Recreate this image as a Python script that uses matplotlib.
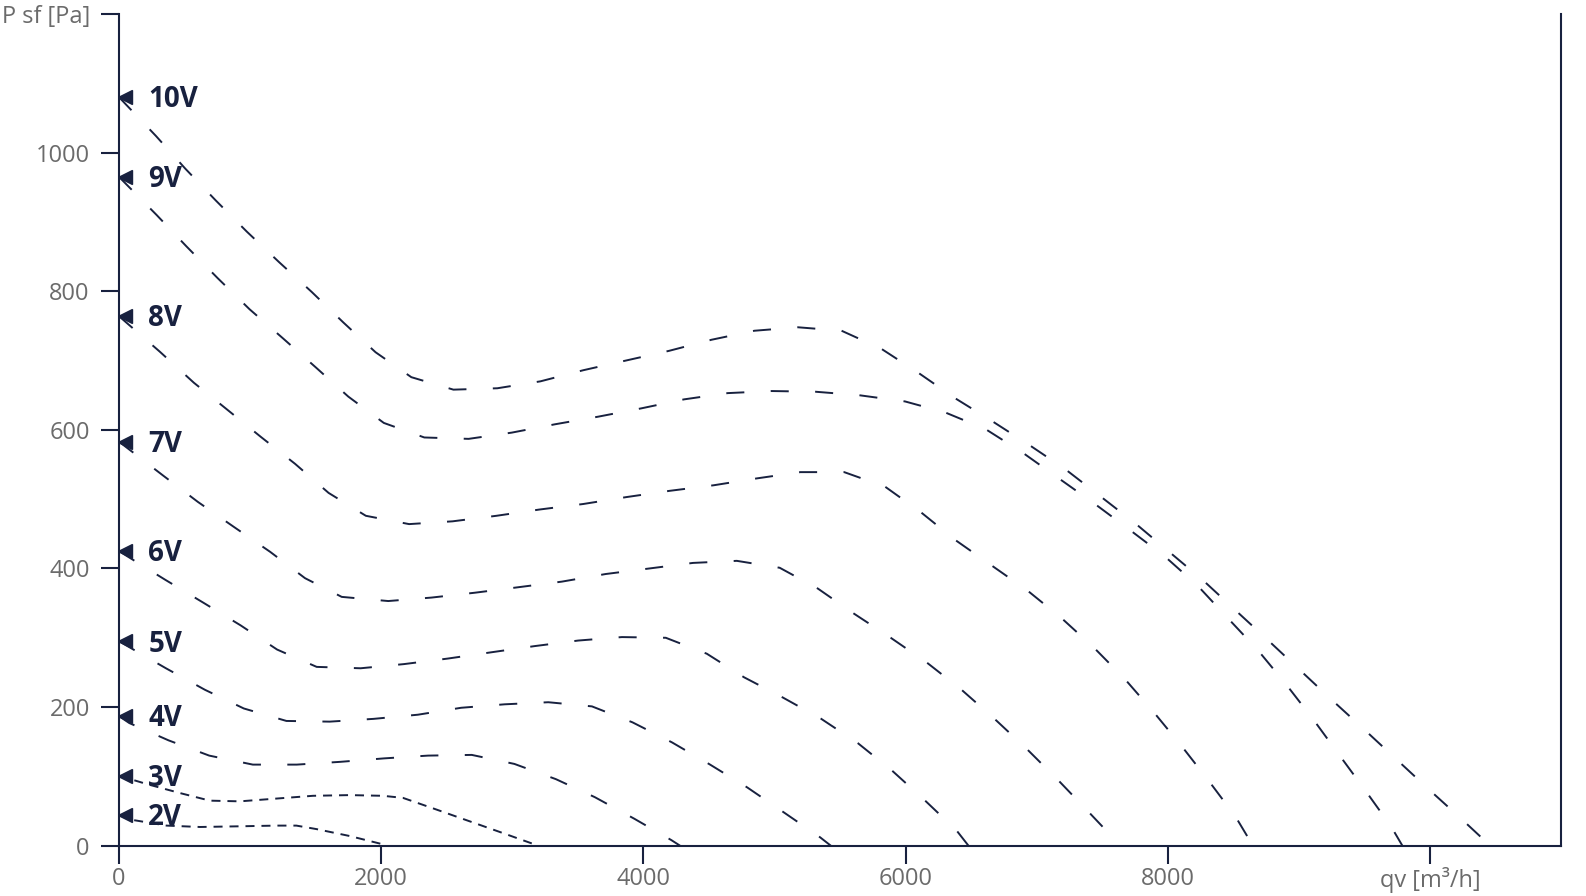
import matplotlib.pyplot as plt
from matplotlib.transforms import ScaledTranslation

plt.rcParams['font.family'] = ['Open Sans', 'DejaVu Sans']
plt.rcParams['lines.scale_dashes'] = False

NAVY = '#18213f'
GREY = '#6b6b6b'

# fan curves, airflow qv [m3/h] vs static pressure [Pa], one pair per control voltage
q_10v = [0, 282, 505, 738, 975, 1221, 1470, 1711, 1957, 2230, 2551, 2886, 3215, 3541, 3867, 4196,
         4520, 4847, 5179, 5512, 5815, 6100, 6375, 6657, 6945, 7220, 7487, 7753, 8011, 8269, 8515,
         8762, 9005, 9248, 9497, 9748, 9993, 10244, 10460]
p_10v = [1080, 1024, 977, 931, 886, 842, 799, 755, 712, 676, 658, 660, 670, 686, 700, 714,
         730, 743, 748, 743, 717, 682, 646, 613, 578, 543, 504, 465, 424, 383, 340,
         297, 254, 211, 168, 124, 81, 38, 0]

q_9v = [0, 287, 513, 752, 996, 1251, 1502, 1749, 2020, 2329, 2667, 2996, 3325, 3655, 3984, 4311,
        4643, 4978, 5313, 5645, 5996, 6304, 6611, 6894, 7169, 7445, 7715, 7980, 8229, 8460, 8688,
        8902, 9111, 9308, 9506, 9703, 9790]
p_9v = [965, 910, 865, 819, 774, 732, 690, 648, 610, 589, 587, 596, 608, 619, 631, 644,
        653, 656, 655, 650, 641, 625, 601, 567, 530, 493, 455, 417, 375, 328, 282,
        233, 182, 131, 80, 28, 0]

q_8v = [0, 310, 571, 820, 1081, 1343, 1599, 1883, 2213, 2544, 2879, 3206, 3541, 3871, 4200, 4535,
        4867, 5197, 5532, 5844, 6118, 6380, 6659, 6931, 7192, 7441, 7675, 7896, 8109, 8315, 8517, 8650]
p_8v = [764, 713, 668, 630, 590, 551, 509, 476, 464, 468, 476, 485, 493, 503, 512, 520,
        530, 539, 539, 518, 481, 441, 404, 368, 328, 285, 240, 192, 143, 93, 42, 0]

q_7v = [0, 330, 602, 876, 1153, 1419, 1699, 2054, 2384, 2714, 3049, 3378, 3713, 4046, 4378, 4713,
        5040, 5331, 5605, 5887, 6164, 6427, 6679, 6928, 7167, 7395, 7640]
p_7v = [583, 535, 496, 460, 424, 386, 359, 353, 358, 365, 373, 381, 392, 400, 408, 411,
        401, 371, 335, 300, 264, 225, 183, 139, 94, 49, 0]

q_6v = [0, 350, 640, 927, 1206, 1508, 1843, 2173, 2508, 2838, 3171, 3503, 3836, 4171, 4484, 4768,
        5062, 5357, 5636, 5899, 6144, 6389, 6480]
p_6v = [425, 384, 351, 318, 283, 258, 256, 262, 270, 279, 288, 296, 301, 300, 277, 243,
        214, 183, 148, 108, 66, 22, 0]

q_5v = [0, 358, 655, 952, 1277, 1607, 1942, 2280, 2610, 2942, 3275, 3608, 3917, 4219, 4509, 4793,
        5072, 5349, 5430]
p_5v = [295, 256, 225, 198, 180, 179, 183, 189, 199, 204, 207, 201, 178, 149, 117, 84,
        48, 12, 0]

q_4v = [0, 78, 378, 688, 1021, 1356, 1688, 2023, 2358, 2691, 3016, 3333, 3630, 3930, 4214, 4280]
p_4v = [187, 177, 152, 130, 117, 117, 121, 126, 130, 131, 118, 96, 70, 39, 8, 0]

q_3v = [0, 211, 464, 693, 922, 1201, 1480, 1759, 2013, 2166, 2394, 2648, 2902, 3168, 3190]
p_3v = [101, 89, 76, 65, 64, 68, 72, 73, 72, 69, 54, 37, 20, 2, 0]

q_2v = [0, 109, 363, 617, 922, 1201, 1353, 1505, 1759, 2013, 2030]
p_2v = [44, 37, 29, 27, 28, 29, 29, 24, 14, 2, 0]

names = ['10V', '9V', '8V', '7V', '6V', '5V', '4V', '3V', '2V']
flows = [q_10v, q_9v, q_8v, q_7v, q_6v, q_5v, q_4v, q_3v, q_2v]
pressures = [p_10v, p_9v, p_8v, p_7v, p_6v, p_5v, p_4v, p_3v, p_2v]

x_ticks = [0, 2000, 4000, 6000, 8000, 10000]
x_labels = ['0', '2000', '4000', '6000', '8000', 'qv [m³/h]']
y_ticks = [0, 200, 400, 600, 800, 1000, 1200]
y_labels = ['0', '200', '400', '600', '800', '1000', 'P sf [Pa]']

fig = plt.figure(figsize=(15.86, 8.96), dpi=100)
ax = fig.add_axes([119 / 1586, 1 - 845.7 / 896, (1561 - 119) / 1586, (845.7 - 14) / 896])

shift = ax.transData + ScaledTranslation(4.5 / 72, 0, fig.dpi_scale_trans)

for name, q, p in zip(names, flows, pressures):
    if name in ('2V', '3V'):
        style = (0, (6.5, 5))
    else:
        style = (0, (13, 19))
    ax.plot(q, p, color=NAVY, lw=1.4, linestyle=style)
    ax.plot(q[0], p[0], marker='<', ms=10, color=NAVY, transform=shift, clip_on=False)
    ax.annotate(name, (q[0], p[0]), xytext=(21, -2), textcoords='offset points',
                va='center', ha='left', fontsize=20, fontweight='bold', color=NAVY)

ax.set_xlim(0, 11000)
ax.set_ylim(0, 1200)
ax.set_xticks(x_ticks)
ax.set_xticklabels(x_labels)
ax.set_yticks(y_ticks)
ax.set_yticklabels(y_labels)

ax.spines['top'].set_visible(False)
for side in ('left', 'right', 'bottom'):
    ax.spines[side].set_color(NAVY)
    ax.spines[side].set_linewidth(1.5)

ax.tick_params(length=13, width=1.5, color=NAVY, labelsize=17, labelcolor=GREY)
ax.tick_params(axis='y', pad=8)
ax.tick_params(axis='x', pad=2)

fig.savefig('out.png', dpi=100)
